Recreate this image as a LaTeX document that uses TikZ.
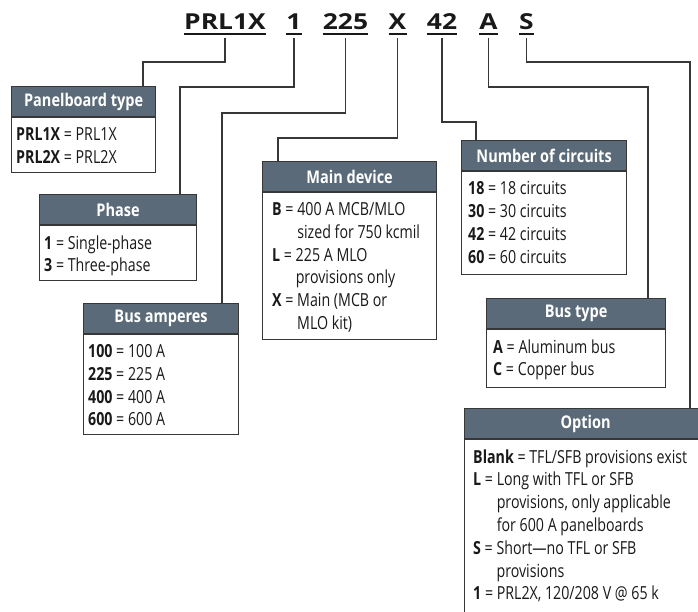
\documentclass[tikz,border=0pt]{standalone}
\usepackage{fontspec}
\setmainfont{Open Sans}
\newfontfamily\condfont[FakeStretch=0.79]{Open Sans}
\newfontfamily\hdrfont[FakeStretch=0.83]{Open Sans}
\newfontfamily\codefont[FakeStretch=1.2]{Open Sans}
\usetikzlibrary{calc}
\definecolor{hdrgray}{RGB}{90,106,120}
\definecolor{boxline}{RGB}{55,55,55}
\definecolor{inkblack}{RGB}{25,25,25}
\tikzset{
  code/.style={font=\codefont\bfseries\fontsize{22}{26}\selectfont, text=inkblack, inner sep=0pt, anchor=base},
  uline/.style={draw=inkblack, line width=2pt},
  link/.style={draw=boxline, line width=1.3pt},
  hdr/.style={fill=hdrgray, draw=boxline, line width=1.2pt, text=white, font=\hdrfont\bfseries\fontsize{17.5}{20}\selectfont, inner sep=0pt, minimum height=30pt, anchor=north west},
  bodybox/.style={draw=boxline, line width=1.2pt, fill=white, inner sep=0pt, anchor=north west},
  bodytxt/.style={font=\condfont\fontsize{18}{22.8}\selectfont, text=inkblack, align=left, inner sep=0pt, anchor=north west},
}
\newcommand{\ind}[1]{\phantom{\textbf{#1} = }}
\begin{document}
\begin{tikzpicture}[x=1pt,y=1pt,yscale=-1]
\clip (0,0) rectangle (698,611);

% Catalog number
\node[code] (c-prl) at (225,29) {PRL1X};
\node[code] (c-ph) at (294,29) {1};
\node[code] (c-amp) at (345.5,29) {225};
\node[code] (c-main) at (397.5,29) {X};
\node[code] (c-circ) at (442,29) {42};
\node[code] (c-bus) at (488.5,29) {A};
\node[code] (c-opt) at (526.5,29) {S};
\foreach \c in {c-prl,c-ph,c-amp,c-main,c-circ,c-bus,c-opt}
  \draw[uline] ($(\c.base west)+(0,4.5)$) -- ($(\c.base east)+(0,4.5)$);

% Panelboard type
\node[hdr, minimum width=144pt] (hd-ptype) at (11,86) {Panelboard type};
\node[bodybox, minimum width=144pt, minimum height=55pt] (bd-ptype) at (hd-ptype.south west) {};
\node[bodytxt] (tx-ptype) at ($(bd-ptype.north west)+(5,10)$) {\textbf{PRL1X} = PRL1X\\\textbf{PRL2X} = PRL2X};

% Phase
\node[hdr, minimum width=157pt] (hd-phase) at (39,194) {Phase};
\node[bodybox, minimum width=157pt, minimum height=55pt] (bd-phase) at (hd-phase.south west) {};
\node[bodytxt] (tx-phase) at ($(bd-phase.north west)+(5,10)$) {\textbf{1} = Single-phase\\\textbf{3} = Three-phase};

% Bus amperes
\node[hdr, minimum width=155pt] (hd-amp) at (83,303) {Bus amperes};
\node[bodybox, minimum width=155pt, minimum height=100pt] (bd-amp) at (hd-amp.south west) {};
\node[bodytxt] (tx-amp) at ($(bd-amp.north west)+(5,10)$) {\textbf{100} = 100 A\\\textbf{225} = 225 A\\\textbf{400} = 400 A\\\textbf{600} = 600 A};

% Main device
\node[hdr, minimum width=174pt] (hd-main) at (262,161) {Main device};
\node[bodybox, minimum width=174pt, minimum height=147pt] (bd-main) at (hd-main.south west) {};
\node[bodytxt] (tx-main) at ($(bd-main.north west)+(10,10)$) {\textbf{B} = 400 A MCB/MLO\\\ind{B}sized for 750 kcmil\\\textbf{L} = 225 A MLO\\\ind{L}provisions only\\\textbf{X} = Main (MCB or\\\ind{X}MLO kit)};

% Number of circuits
\node[hdr, minimum width=165pt] (hd-circ) at (461,140) {Number of circuits};
\node[bodybox, minimum width=165pt, minimum height=103pt] (bd-circ) at (hd-circ.south west) {};
\node[bodytxt] (tx-circ) at ($(bd-circ.north west)+(7,10)$) {\textbf{18} = 18 circuits\\\textbf{30} = 30 circuits\\\textbf{42} = 42 circuits\\\textbf{60} = 60 circuits};

% Bus type
\node[hdr, minimum width=179pt] (hd-bus) at (486,298) {Bus type};
\node[bodybox, minimum width=179pt, minimum height=58pt] (bd-bus) at (hd-bus.south west) {};
\node[bodytxt] (tx-bus) at ($(bd-bus.north west)+(7,10)$) {\textbf{A} = Aluminum bus\\\textbf{C} = Copper bus};

% Option
\node[hdr, minimum width=242pt] (hd-opt) at (464,408) {Option};
\node[bodybox, minimum width=242pt, minimum height=220pt] (bd-opt) at (hd-opt.south west) {};
\node[bodytxt] (tx-opt) at ($(bd-opt.north west)+(9,10)$) {\textbf{Blank} = TFL/SFB provisions exist\\\textbf{L} = Long with TFL or SFB\\\ind{L}provisions, only applicable\\\ind{L}for 600 A panelboards\\\textbf{S} = Short\textemdash no TFL or SFB\\\ind{S}provisions\\\textbf{1} = PRL2X, 120/208 V @ 65 k};

% Connectors
\draw[link] ($(c-prl.base)+(0,9)$) -- ++(0,24) -| ($(hd-ptype.north west)+(132,0)$);
\draw[link] ($(c-ph.base)+(0,9)$) -- ++(0,49) -| ($(hd-phase.north west)+(141,0)$);
\draw[link] ($(c-amp.base)+(0,9)$) -- ++(0,75) -| ($(hd-amp.north west)+(139,0)$);
\draw[link] ($(c-main.base)+(0,9)$) -- ++(0,100) -| ($(hd-main.north west)+(16,0)$);
\draw[link] ($(c-circ.base)+(0,9)$) -- ++(0,84) -| ($(hd-circ.north west)+(15,0)$);
\draw[link] ($(c-bus.base)+(0,9)$) -- ++(0,49) -| ($(hd-bus.north west)+(162,0)$);
\draw[link] ($(c-opt.base)+(0,9)$) -- ++(0,24) -| ($(hd-opt.north west)+(226,0)$);

\end{tikzpicture}
\end{document}
